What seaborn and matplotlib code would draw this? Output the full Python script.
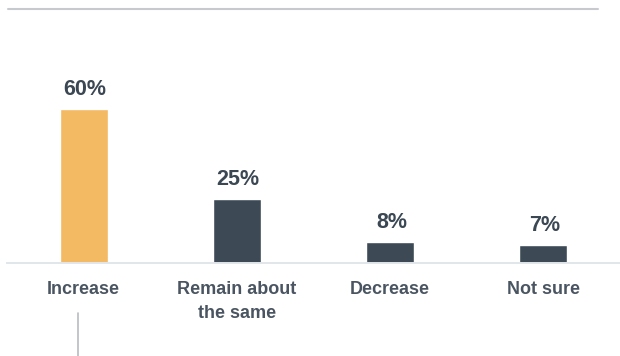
import matplotlib
matplotlib.use('Agg')
import matplotlib.pyplot as plt
from matplotlib.lines import Line2D
import seaborn as sns

# data
categories = ['Increase', 'Remain about\nthe same', 'Decrease', 'Not sure']
values = [60, 25, 8, 7]
value_labels = ['60%', '25%', '8%', '7%']
bar_colors = ['#f4b963', '#3d4a56', '#3d4a56', '#3d4a56']

sns.set_style('white')
plt.rcParams['font.family'] = ['Liberation Sans', 'DejaVu Sans']

fig = plt.figure(figsize=(6.2, 3.56), dpi=100)
ax = fig.add_axes([7 / 620, 93.5 / 356, 613 / 620, 178.9 / 356])

sns.barplot(x=categories, y=values, hue=categories, palette=bar_colors,
            width=0.314, legend=False, ax=ax, saturation=1)

ax.set_xlim(-0.5, 3.5)
ax.set_ylim(0, 70)

for i, (v, lab) in enumerate(zip(values, value_labels)):
    ax.annotate(lab, (i, v), xytext=(1, 10), textcoords='offset points',
                ha='center', va='baseline', fontsize=15.5, fontweight='bold',
                color='#3b4753', annotation_clip=False)

ax.set_yticks([])
ax.set_xlabel('')
ax.set_ylabel('')
ax.tick_params(axis='x', length=0, pad=13)
for t in ax.get_xticklabels():
    t.set_fontsize(13)
    t.set_fontweight('bold')
    t.set_color('#4a5561')
    t.set_linespacing(1.6)

for s in ['top', 'left', 'right']:
    ax.spines[s].set_visible(False)
ax.spines['bottom'].set_color('#e1e6ea')
ax.spines['bottom'].set_linewidth(1.4)

# top rule and small connector line under the first label
fig.add_artist(Line2D([8 / 620, 598 / 620], [1 - 9 / 356, 1 - 9 / 356],
                      color='#c6cacf', lw=1.5, transform=fig.transFigure))
fig.add_artist(Line2D([78 / 620, 78 / 620], [1 - 313 / 356, 0],
                      color='#b8bcc2', lw=1.2, transform=fig.transFigure))

fig.savefig('out.png', dpi=100)
